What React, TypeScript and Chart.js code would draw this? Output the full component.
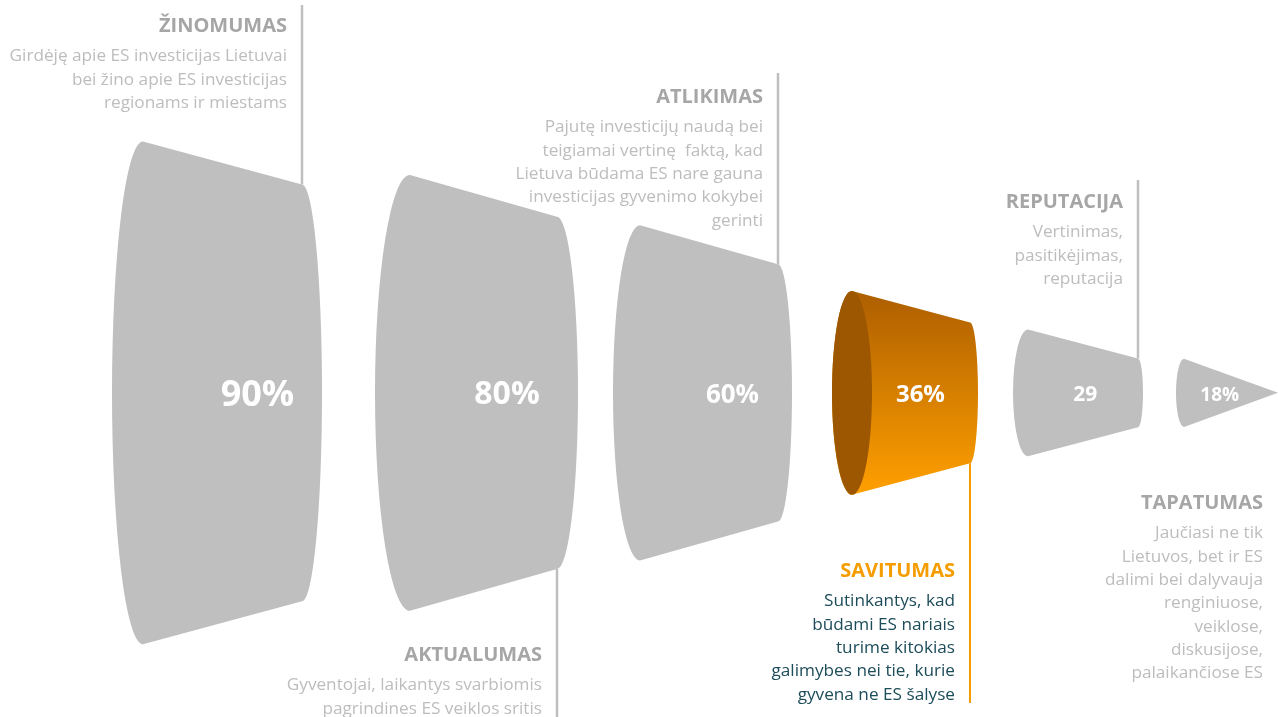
import React, { useEffect, useRef } from 'react';
import { Chart, registerables } from 'chart.js';

Chart.register(...registerables);

// ---- data ----
const stages = ['ŽINOMUMAS', 'AKTUALUMAS', 'ATLIKIMAS', 'SAVITUMAS', 'REPUTACIJA', 'TAPATUMAS'];
const valueLabels = ['90%', '80%', '60%', '36%', '29', '18%'];
const values = [90, 80, 60, 36, 29, 18];
const coneStartX = [143, 410, 640, 852, 1028, 1184];
const coneEndX = [302, 557, 778, 970, 1138, 1278];
const startSize = [90, 78, 60, 36.5, 22.7, 12.2];
const endSize = [74.6, 63, 46, 25.2, 12.3, 0];
const descriptions = [
  ['Girdėję apie ES investicijas Lietuvai', 'bei žino apie ES investicijas', 'regionams ir miestams'],
  ['Gyventojai, laikantys svarbiomis', 'pagrindines ES veiklos sritis'],
  ['Pajutę investicijų naudą bei', 'teigiamai vertinę  faktą, kad', 'Lietuva būdama ES nare gauna', 'investicijas gyvenimo kokybei', 'gerinti'],
  ['Sutinkantys, kad', 'būdami ES nariais', 'turime kitokias', 'galimybes nei tie, kurie', 'gyvena ne ES šalyse'],
  ['Vertinimas,', 'pasitikėjimas,', 'reputacija'],
  ['Jaučiasi ne tik', 'Lietuvos, bet ir ES', 'dalimi bei dalyvauja', 'renginiuose,', 'veiklose,', 'diskusijose,', 'palaikančiose ES'],
];
const highlightIndex = 3;

// ---- styles / layout ----
const FONT = '"Open Sans", "DejaVu Sans", sans-serif';
const STYLE = {
  gray: '#bfbfbf',
  titleGray: '#a6a6a6',
  textGray: '#bdbdbd',
  orange: '#f59d00',
  orangeTop: '#ad5e00',
  orangeBottom: '#ffa000',
  orangeInner: '#9d5700',
  teal: '#1d4c5a',
  leftDepth: [31, 35, 27, 20, 15, 8],
  rightDepth: [20, 21, 14, 8, 5, 0],
  labelFrac: [0.72, 0.66, 0.67, 0.58, 0.52, 0.38],
  labelFont: [36, 32, 26, 24, 21, 19],
  labelDy: 2.5,
  leaderEnd: [5, 717, 73, 703, 180, null] as (number | null)[],
  titleY: [26, 655, 97, 571, 202, 503],
  titleGap: 30.5,
  lineStep: 23.3,
  textPad: 15,
  titleSize: 20,
  bodySize: 17.2,
};

const conePlugin = {
  id: 'cones',
  afterDatasetsDraw(chart: any) {
    const ctx: CanvasRenderingContext2D = chart.ctx;
    const xs = chart.scales.x;
    const ys = chart.scales.y;
    const yc = ys.getPixelForValue(0);
    const half = (s: number) => yc - ys.getPixelForValue(s / 2);
    ctx.save();
    values.forEach((_, i) => {
      const xl = xs.getPixelForValue(coneStartX[i]);
      const xr = xs.getPixelForValue(coneEndX[i]);
      const hl = half(startSize[i]);
      const hr = half(endSize[i]);
      const rl = STYLE.leftDepth[i];
      const rr = STYLE.rightDepth[i];
      const hi = i === highlightIndex;

      // leader line
      const le = STYLE.leaderEnd[i];
      if (le !== null) {
        ctx.beginPath();
        ctx.strokeStyle = hi ? STYLE.orange : STYLE.gray;
        ctx.lineWidth = hi ? 2 : 2.5;
        const up = le < yc;
        ctx.moveTo(xr, up ? yc - hr : yc + hr);
        ctx.lineTo(xr, le);
        ctx.stroke();
      }

      // cone body
      ctx.beginPath();
      ctx.moveTo(xl, yc - hl);
      ctx.lineTo(xr, yc - hr);
      if (hr > 0 && rr > 0) {
        ctx.ellipse(xr, yc, rr, hr, 0, -Math.PI / 2, Math.PI / 2, false);
      } else {
        ctx.lineTo(xr, yc + hr);
      }
      ctx.lineTo(xl, yc + hl);
      ctx.ellipse(xl, yc, rl, hl, 0, Math.PI / 2, (3 * Math.PI) / 2, false);
      ctx.closePath();
      if (hi) {
        const g = ctx.createLinearGradient(0, yc - hl, 0, yc + hl);
        g.addColorStop(0, STYLE.orangeTop);
        g.addColorStop(1, STYLE.orangeBottom);
        ctx.fillStyle = g;
      } else {
        ctx.fillStyle = STYLE.gray;
      }
      ctx.fill();

      if (hi) {
        ctx.beginPath();
        ctx.ellipse(xl, yc, rl, hl, 0, 0, Math.PI * 2);
        ctx.fillStyle = STYLE.orangeInner;
        ctx.fill();
      }

      // value label
      ctx.fillStyle = '#ffffff';
      ctx.font = `bold ${STYLE.labelFont[i]}px ${FONT}`;
      ctx.textAlign = 'center';
      ctx.textBaseline = 'middle';
      ctx.fillText(valueLabels[i], xl + STYLE.labelFrac[i] * (xr - xl), yc + STYLE.labelDy);

      // stage text
      const tx = xr - STYLE.textPad;
      ctx.textAlign = 'right';
      ctx.font = `bold ${STYLE.titleSize}px ${FONT}`;
      ctx.fillStyle = hi ? STYLE.orange : STYLE.titleGray;
      ctx.fillText(stages[i], tx, STYLE.titleY[i]);
      ctx.font = `${STYLE.bodySize}px ${FONT}`;
      ctx.fillStyle = hi ? STYLE.teal : STYLE.textGray;
      descriptions[i].forEach((line, k) => {
        ctx.fillText(line, tx, STYLE.titleY[i] + STYLE.titleGap + k * STYLE.lineStep);
      });
    });
    ctx.restore();
  },
};

export default function App() {
  const ref = useRef<HTMLCanvasElement | null>(null);
  useEffect(() => {
    if (!ref.current) return;
    const chart = new Chart(ref.current, {
      type: 'scatter',
      data: {
        datasets: [
          {
            label: 'Funnel',
            data: values.map((v, i) => ({ x: (coneStartX[i] + coneEndX[i]) / 2, y: 0 })),
            pointRadius: 0,
            pointHoverRadius: 0,
          },
        ],
      },
      options: {
        animation: false,
        responsive: true,
        maintainAspectRatio: false,
        layout: { padding: 0 },
        plugins: { legend: { display: false }, tooltip: { enabled: false } },
        events: [],
        scales: {
          x: { type: 'linear', min: 0, max: 1278, display: false },
          y: { type: 'linear', min: -58, max: 70.3, display: false },
        },
      },
      plugins: [conePlugin],
    });
    return () => chart.destroy();
  }, []);
  return (
    <div style={{ position: 'fixed', left: 0, top: 0, width: 1278, height: 717, background: '#ffffff' }}>
      <canvas ref={ref} />
    </div>
  );
}
